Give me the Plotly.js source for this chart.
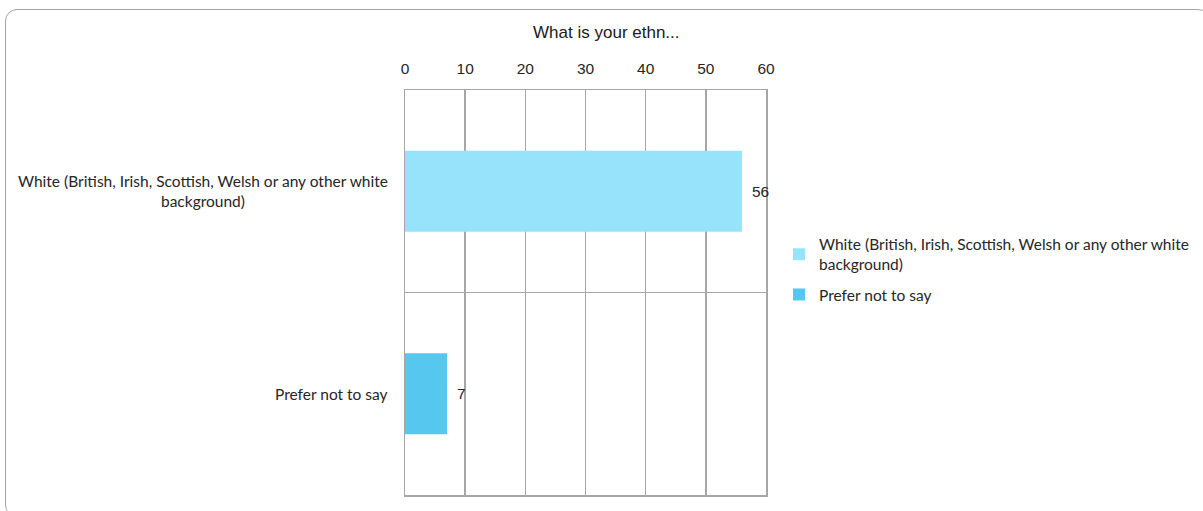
<!DOCTYPE html>
<html>
<head>
<meta charset="utf-8">
<script src="https://cdn.plot.ly/plotly-3.0.1.min.js"></script>
<style>
  html, body { margin: 0; padding: 0; background: #ffffff; overflow: hidden; }
  #chart { position: absolute; left: 0; top: 0; width: 1203px; height: 511px; }
  #frame {
    position: absolute; left: 5px; top: 9px; width: 1205px; height: 508px;
    border: 1.5px solid #a3a3a3; border-radius: 12px; box-sizing: border-box;
    pointer-events: none;
  }
</style>
</head>
<body>
<div id="chart"></div>
<div id="frame"></div>
<script>
// Survey responses: ethnicity
const categories = [
  "White (British, Irish, Scottish, Welsh or any other white background)",
  "Prefer not to say"
];
const categoryLabels = [
  "White (British, Irish, Scottish, Welsh or any other white<br>background)",
  "Prefer not to say"
];
const counts = [56, 7];
const barColors = ["#97e3fb", "#56c8f0"];
const xTicks = [0, 10, 20, 30, 40, 50, 60];

const labelFont = { family: "Lato, 'Noto Sans', sans-serif", size: 15.5, color: "#262626" };
const tickFont = { family: "'Liberation Sans', Arial, sans-serif", size: 15.5, color: "#262626" };
const numFont = { family: "'Liberation Sans', Arial, sans-serif", size: 15.5, color: "#262626" };

// one trace per category so each gets its own legend entry and colour
const traces = categories.map((cat, i) => ({
  type: "bar",
  orientation: "h",
  y: [cat],
  x: [counts[i]],
  name: categoryLabels[i],
  legendgroup: "g" + i,
  width: 0.4,
  marker: { color: barColors[i] },
  hoverinfo: "x+y"
}));

// category labels, centred per line, to the left of the plot area
const catAnnotations = categories.map((cat, i) => ({
  xref: "paper", yref: "y",
  x: 0, y: cat,
  xanchor: "right", yanchor: "middle",
  xshift: -15,
  align: "center",
  showarrow: false,
  text: categoryLabels[i],
  font: labelFont
}));

// value labels just past the end of each bar
const valueAnnotations = categories.map((cat, i) => ({
  xref: "x", yref: "y",
  x: counts[i], y: cat,
  xanchor: "left", yanchor: "middle",
  xshift: 8,
  showarrow: false,
  text: String(counts[i]),
  font: numFont
}));

const layout = {
  width: 1203,
  height: 511,
  paper_bgcolor: "rgba(0,0,0,0)",
  plot_bgcolor: "#ffffff",
  margin: { l: 405, r: 437, t: 90, b: 16, pad: 0, autoexpand: false },
  barmode: "overlay",
  showlegend: true,
  title: {
    text: "What is your ethn...",
    x: 0.504, xref: "container", xanchor: "center",
    y: 1 - 32 / 511, yref: "container", yanchor: "middle",
    font: { family: "'Liberation Sans', Arial, sans-serif", size: 17, color: "#1a1a1a" }
  },
  xaxis: {
    side: "top",
    range: [0, 60],
    tickvals: xTicks,
    ticktext: xTicks.map(String),
    ticks: "",
    ticklen: 0,
    ticklabelstandoff: 8,
    showgrid: true,
    gridcolor: "#a6a6a6",
    gridwidth: 1.5,
    zeroline: false,
    showline: true,
    linecolor: "#a6a6a6",
    linewidth: 1.5,
    mirror: true,
    tickfont: tickFont,
    fixedrange: true
  },
  yaxis: {
    type: "category",
    categoryorder: "array",
    categoryarray: categories,
    autorange: "reversed",
    showticklabels: false,
    ticks: "",
    tickson: "boundaries",
    showgrid: true,
    gridcolor: "#a6a6a6",
    gridwidth: 1.5,
    zeroline: false,
    showline: true,
    linecolor: "#a6a6a6",
    linewidth: 1.5,
    mirror: true,
    fixedrange: true
  },
  legend: {
    x: 1.036, xanchor: "left",
    y: 0.66, yanchor: "top",
    traceorder: "grouped",
    font: labelFont,
    bgcolor: "rgba(0,0,0,0)",
    itemclick: false,
    itemdoubleclick: false,
    tracegroupgap: 7
  },
  annotations: catAnnotations.concat(valueAnnotations)
};

Plotly.newPlot("chart", traces, layout, { displayModeBar: false, staticPlot: true });
</script>
</body>
</html>
